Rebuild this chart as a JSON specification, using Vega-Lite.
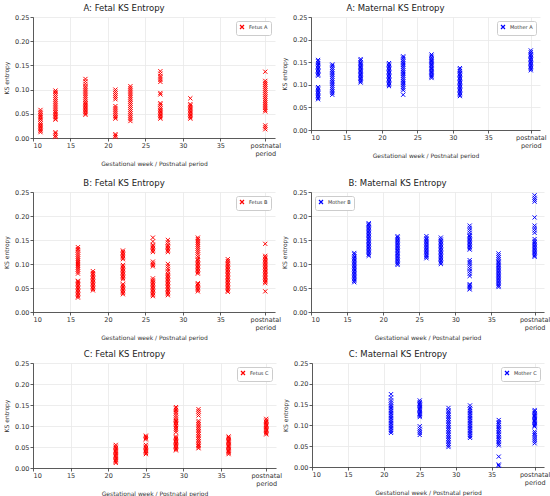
{
"$schema":"https://vega.github.io/schema/vega-lite/v6.json",
"padding":{"left":3,"top":3,"right":0,"bottom":0},
"background":"white",
"datasets":{
"AF":[{"w":11,"v":0.012},{"w":11,"v":0.015},{"w":11,"v":0.018},{"w":11,"v":0.021},{"w":11,"v":0.024},{"w":11,"v":0.027},{"w":11,"v":0.030},{"w":11,"v":0.034},{"w":11,"v":0.038},{"w":11,"v":0.041},{"w":11,"v":0.044},{"w":11,"v":0.047},{"w":11,"v":0.050},{"w":11,"v":0.054},{"w":11,"v":0.058},
{"w":13,"v":0.002},{"w":13,"v":0.005},{"w":13,"v":0.009},{"w":13,"v":0.012},{"w":13,"v":0.038},{"w":13,"v":0.041},{"w":13,"v":0.044},{"w":13,"v":0.047},{"w":13,"v":0.050},{"w":13,"v":0.053},{"w":13,"v":0.056},{"w":13,"v":0.060},{"w":13,"v":0.064},{"w":13,"v":0.068},{"w":13,"v":0.072},{"w":13,"v":0.076},{"w":13,"v":0.080},{"w":13,"v":0.084},{"w":13,"v":0.088},{"w":13,"v":0.092},{"w":13,"v":0.095},{"w":13,"v":0.098},
{"w":17,"v":0.048},{"w":17,"v":0.051},{"w":17,"v":0.054},{"w":17,"v":0.057},{"w":17,"v":0.060},{"w":17,"v":0.063},{"w":17,"v":0.066},{"w":17,"v":0.069},{"w":17,"v":0.072},{"w":17,"v":0.075},{"w":17,"v":0.079},{"w":17,"v":0.083},{"w":17,"v":0.087},{"w":17,"v":0.091},{"w":17,"v":0.095},{"w":17,"v":0.099},{"w":17,"v":0.103},{"w":17,"v":0.107},{"w":17,"v":0.112},{"w":17,"v":0.117},{"w":17,"v":0.122},
{"w":21,"v":0.002},{"w":21,"v":0.005},{"w":21,"v":0.008},{"w":21,"v":0.040},{"w":21,"v":0.043},{"w":21,"v":0.046},{"w":21,"v":0.050},{"w":21,"v":0.054},{"w":21,"v":0.058},{"w":21,"v":0.062},{"w":21,"v":0.066},{"w":21,"v":0.080},{"w":21,"v":0.084},{"w":21,"v":0.088},{"w":21,"v":0.092},{"w":21,"v":0.096},{"w":21,"v":0.100},
{"w":23,"v":0.035},{"w":23,"v":0.039},{"w":23,"v":0.043},{"w":23,"v":0.047},{"w":23,"v":0.051},{"w":23,"v":0.055},{"w":23,"v":0.059},{"w":23,"v":0.063},{"w":23,"v":0.067},{"w":23,"v":0.071},{"w":23,"v":0.075},{"w":23,"v":0.079},{"w":23,"v":0.083},{"w":23,"v":0.087},{"w":23,"v":0.091},{"w":23,"v":0.095},{"w":23,"v":0.099},{"w":23,"v":0.103},{"w":23,"v":0.107},
{"w":27,"v":0.040},{"w":27,"v":0.043},{"w":27,"v":0.046},{"w":27,"v":0.049},{"w":27,"v":0.052},{"w":27,"v":0.055},{"w":27,"v":0.058},{"w":27,"v":0.061},{"w":27,"v":0.065},{"w":27,"v":0.069},{"w":27,"v":0.072},{"w":27,"v":0.090},{"w":27,"v":0.093},{"w":27,"v":0.116},{"w":27,"v":0.120},{"w":27,"v":0.124},{"w":27,"v":0.128},{"w":27,"v":0.133},{"w":27,"v":0.138},
{"w":31,"v":0.040},{"w":31,"v":0.043},{"w":31,"v":0.046},{"w":31,"v":0.049},{"w":31,"v":0.052},{"w":31,"v":0.055},{"w":31,"v":0.058},{"w":31,"v":0.061},{"w":31,"v":0.064},{"w":31,"v":0.067},{"w":31,"v":0.070},{"w":31,"v":0.082},
{"w":41,"v":0.018},{"w":41,"v":0.022},{"w":41,"v":0.026},{"w":41,"v":0.055},{"w":41,"v":0.058},{"w":41,"v":0.062},{"w":41,"v":0.066},{"w":41,"v":0.070},{"w":41,"v":0.074},{"w":41,"v":0.078},{"w":41,"v":0.082},{"w":41,"v":0.086},{"w":41,"v":0.090},{"w":41,"v":0.094},{"w":41,"v":0.098},{"w":41,"v":0.102},{"w":41,"v":0.106},{"w":41,"v":0.110},{"w":41,"v":0.114},{"w":41,"v":0.118},{"w":41,"v":0.137}],
"AM":[{"w":11,"v":0.068},{"w":11,"v":0.071},{"w":11,"v":0.074},{"w":11,"v":0.077},{"w":11,"v":0.080},{"w":11,"v":0.083},{"w":11,"v":0.086},{"w":11,"v":0.089},{"w":11,"v":0.092},{"w":11,"v":0.095},{"w":11,"v":0.120},{"w":11,"v":0.123},{"w":11,"v":0.126},{"w":11,"v":0.129},{"w":11,"v":0.132},{"w":11,"v":0.135},{"w":11,"v":0.138},{"w":11,"v":0.141},{"w":11,"v":0.144},{"w":11,"v":0.148},{"w":11,"v":0.152},{"w":11,"v":0.155},
{"w":13,"v":0.078},{"w":13,"v":0.082},{"w":13,"v":0.086},{"w":13,"v":0.090},{"w":13,"v":0.094},{"w":13,"v":0.098},{"w":13,"v":0.102},{"w":13,"v":0.106},{"w":13,"v":0.110},{"w":13,"v":0.114},{"w":13,"v":0.118},{"w":13,"v":0.122},{"w":13,"v":0.126},{"w":13,"v":0.130},{"w":13,"v":0.134},{"w":13,"v":0.138},{"w":13,"v":0.142},{"w":13,"v":0.145},
{"w":17,"v":0.105},{"w":17,"v":0.108},{"w":17,"v":0.111},{"w":17,"v":0.114},{"w":17,"v":0.117},{"w":17,"v":0.120},{"w":17,"v":0.123},{"w":17,"v":0.126},{"w":17,"v":0.129},{"w":17,"v":0.132},{"w":17,"v":0.135},{"w":17,"v":0.138},{"w":17,"v":0.141},{"w":17,"v":0.144},{"w":17,"v":0.147},{"w":17,"v":0.150},{"w":17,"v":0.154},{"w":17,"v":0.157},
{"w":21,"v":0.097},{"w":21,"v":0.100},{"w":21,"v":0.103},{"w":21,"v":0.106},{"w":21,"v":0.109},{"w":21,"v":0.112},{"w":21,"v":0.115},{"w":21,"v":0.118},{"w":21,"v":0.121},{"w":21,"v":0.124},{"w":21,"v":0.127},{"w":21,"v":0.130},{"w":21,"v":0.133},{"w":21,"v":0.136},{"w":21,"v":0.139},{"w":21,"v":0.142},{"w":21,"v":0.145},{"w":21,"v":0.148},
{"w":23,"v":0.078},{"w":23,"v":0.088},{"w":23,"v":0.092},{"w":23,"v":0.096},{"w":23,"v":0.100},{"w":23,"v":0.104},{"w":23,"v":0.108},{"w":23,"v":0.112},{"w":23,"v":0.116},{"w":23,"v":0.120},{"w":23,"v":0.124},{"w":23,"v":0.128},{"w":23,"v":0.132},{"w":23,"v":0.136},{"w":23,"v":0.140},{"w":23,"v":0.144},{"w":23,"v":0.148},{"w":23,"v":0.152},{"w":23,"v":0.156},{"w":23,"v":0.160},{"w":23,"v":0.163},
{"w":27,"v":0.115},{"w":27,"v":0.118},{"w":27,"v":0.121},{"w":27,"v":0.124},{"w":27,"v":0.127},{"w":27,"v":0.130},{"w":27,"v":0.133},{"w":27,"v":0.136},{"w":27,"v":0.139},{"w":27,"v":0.142},{"w":27,"v":0.145},{"w":27,"v":0.148},{"w":27,"v":0.151},{"w":27,"v":0.154},{"w":27,"v":0.157},{"w":27,"v":0.160},{"w":27,"v":0.164},{"w":27,"v":0.167},
{"w":31,"v":0.075},{"w":31,"v":0.078},{"w":31,"v":0.081},{"w":31,"v":0.084},{"w":31,"v":0.087},{"w":31,"v":0.090},{"w":31,"v":0.093},{"w":31,"v":0.096},{"w":31,"v":0.099},{"w":31,"v":0.102},{"w":31,"v":0.105},{"w":31,"v":0.108},{"w":31,"v":0.111},{"w":31,"v":0.114},{"w":31,"v":0.117},{"w":31,"v":0.120},{"w":31,"v":0.123},{"w":31,"v":0.126},{"w":31,"v":0.130},{"w":31,"v":0.134},{"w":31,"v":0.137},
{"w":41,"v":0.132},{"w":41,"v":0.135},{"w":41,"v":0.138},{"w":41,"v":0.141},{"w":41,"v":0.144},{"w":41,"v":0.147},{"w":41,"v":0.150},{"w":41,"v":0.153},{"w":41,"v":0.156},{"w":41,"v":0.159},{"w":41,"v":0.162},{"w":41,"v":0.165},{"w":41,"v":0.168},{"w":41,"v":0.172},{"w":41,"v":0.176}],
"BF":[{"w":16,"v":0.030},{"w":16,"v":0.033},{"w":16,"v":0.036},{"w":16,"v":0.039},{"w":16,"v":0.042},{"w":16,"v":0.045},{"w":16,"v":0.048},{"w":16,"v":0.051},{"w":16,"v":0.054},{"w":16,"v":0.057},{"w":16,"v":0.060},{"w":16,"v":0.063},{"w":16,"v":0.065},{"w":16,"v":0.080},{"w":16,"v":0.084},{"w":16,"v":0.088},{"w":16,"v":0.092},{"w":16,"v":0.096},{"w":16,"v":0.100},{"w":16,"v":0.104},{"w":16,"v":0.108},{"w":16,"v":0.112},{"w":16,"v":0.116},{"w":16,"v":0.120},{"w":16,"v":0.124},{"w":16,"v":0.128},{"w":16,"v":0.131},{"w":16,"v":0.135},
{"w":18,"v":0.045},{"w":18,"v":0.048},{"w":18,"v":0.051},{"w":18,"v":0.054},{"w":18,"v":0.057},{"w":18,"v":0.060},{"w":18,"v":0.063},{"w":18,"v":0.066},{"w":18,"v":0.069},{"w":18,"v":0.072},{"w":18,"v":0.075},{"w":18,"v":0.078},{"w":18,"v":0.081},{"w":18,"v":0.085},
{"w":22,"v":0.037},{"w":22,"v":0.040},{"w":22,"v":0.043},{"w":22,"v":0.046},{"w":22,"v":0.049},{"w":22,"v":0.052},{"w":22,"v":0.055},{"w":22,"v":0.058},{"w":22,"v":0.068},{"w":22,"v":0.071},{"w":22,"v":0.074},{"w":22,"v":0.077},{"w":22,"v":0.080},{"w":22,"v":0.083},{"w":22,"v":0.086},{"w":22,"v":0.089},{"w":22,"v":0.092},{"w":22,"v":0.095},{"w":22,"v":0.098},{"w":22,"v":0.110},{"w":22,"v":0.113},{"w":22,"v":0.116},{"w":22,"v":0.119},{"w":22,"v":0.122},{"w":22,"v":0.125},{"w":22,"v":0.128},
{"w":26,"v":0.033},{"w":26,"v":0.036},{"w":26,"v":0.039},{"w":26,"v":0.042},{"w":26,"v":0.045},{"w":26,"v":0.048},{"w":26,"v":0.051},{"w":26,"v":0.054},{"w":26,"v":0.057},{"w":26,"v":0.060},{"w":26,"v":0.063},{"w":26,"v":0.066},{"w":26,"v":0.070},{"w":26,"v":0.095},{"w":26,"v":0.098},{"w":26,"v":0.101},{"w":26,"v":0.105},{"w":26,"v":0.125},{"w":26,"v":0.128},{"w":26,"v":0.131},{"w":26,"v":0.134},{"w":26,"v":0.137},{"w":26,"v":0.140},{"w":26,"v":0.147},{"w":26,"v":0.155},
{"w":28,"v":0.035},{"w":28,"v":0.038},{"w":28,"v":0.041},{"w":28,"v":0.044},{"w":28,"v":0.047},{"w":28,"v":0.050},{"w":28,"v":0.053},{"w":28,"v":0.056},{"w":28,"v":0.059},{"w":28,"v":0.062},{"w":28,"v":0.065},{"w":28,"v":0.068},{"w":28,"v":0.071},{"w":28,"v":0.074},{"w":28,"v":0.077},{"w":28,"v":0.080},{"w":28,"v":0.085},{"w":28,"v":0.090},{"w":28,"v":0.095},{"w":28,"v":0.100},{"w":28,"v":0.125},{"w":28,"v":0.128},{"w":28,"v":0.131},{"w":28,"v":0.134},{"w":28,"v":0.137},{"w":28,"v":0.140},{"w":28,"v":0.145},{"w":28,"v":0.150},
{"w":32,"v":0.043},{"w":32,"v":0.046},{"w":32,"v":0.049},{"w":32,"v":0.052},{"w":32,"v":0.055},{"w":32,"v":0.058},{"w":32,"v":0.060},{"w":32,"v":0.080},{"w":32,"v":0.083},{"w":32,"v":0.086},{"w":32,"v":0.089},{"w":32,"v":0.092},{"w":32,"v":0.095},{"w":32,"v":0.098},{"w":32,"v":0.101},{"w":32,"v":0.104},{"w":32,"v":0.107},{"w":32,"v":0.110},{"w":32,"v":0.115},{"w":32,"v":0.120},{"w":32,"v":0.124},{"w":32,"v":0.128},{"w":32,"v":0.132},{"w":32,"v":0.136},{"w":32,"v":0.140},{"w":32,"v":0.144},{"w":32,"v":0.148},{"w":32,"v":0.152},{"w":32,"v":0.155},
{"w":36,"v":0.042},{"w":36,"v":0.045},{"w":36,"v":0.048},{"w":36,"v":0.051},{"w":36,"v":0.054},{"w":36,"v":0.057},{"w":36,"v":0.060},{"w":36,"v":0.063},{"w":36,"v":0.066},{"w":36,"v":0.069},{"w":36,"v":0.072},{"w":36,"v":0.075},{"w":36,"v":0.078},{"w":36,"v":0.081},{"w":36,"v":0.084},{"w":36,"v":0.087},{"w":36,"v":0.090},{"w":36,"v":0.093},{"w":36,"v":0.096},{"w":36,"v":0.099},{"w":36,"v":0.102},{"w":36,"v":0.106},{"w":36,"v":0.110},
{"w":41,"v":0.043},{"w":41,"v":0.060},{"w":41,"v":0.063},{"w":41,"v":0.066},{"w":41,"v":0.069},{"w":41,"v":0.072},{"w":41,"v":0.075},{"w":41,"v":0.078},{"w":41,"v":0.081},{"w":41,"v":0.084},{"w":41,"v":0.087},{"w":41,"v":0.090},{"w":41,"v":0.093},{"w":41,"v":0.096},{"w":41,"v":0.099},{"w":41,"v":0.102},{"w":41,"v":0.105},{"w":41,"v":0.108},{"w":41,"v":0.111},{"w":41,"v":0.114},{"w":41,"v":0.117},{"w":41,"v":0.142}],
"BM":[{"w":16,"v":0.062},{"w":16,"v":0.065},{"w":16,"v":0.068},{"w":16,"v":0.071},{"w":16,"v":0.074},{"w":16,"v":0.077},{"w":16,"v":0.080},{"w":16,"v":0.083},{"w":16,"v":0.086},{"w":16,"v":0.089},{"w":16,"v":0.092},{"w":16,"v":0.095},{"w":16,"v":0.098},{"w":16,"v":0.101},{"w":16,"v":0.104},{"w":16,"v":0.107},{"w":16,"v":0.110},{"w":16,"v":0.113},{"w":16,"v":0.116},{"w":16,"v":0.120},{"w":16,"v":0.123},
{"w":18,"v":0.117},{"w":18,"v":0.120},{"w":18,"v":0.123},{"w":18,"v":0.126},{"w":18,"v":0.129},{"w":18,"v":0.132},{"w":18,"v":0.135},{"w":18,"v":0.138},{"w":18,"v":0.141},{"w":18,"v":0.144},{"w":18,"v":0.147},{"w":18,"v":0.150},{"w":18,"v":0.153},{"w":18,"v":0.156},{"w":18,"v":0.159},{"w":18,"v":0.162},{"w":18,"v":0.165},{"w":18,"v":0.168},{"w":18,"v":0.171},{"w":18,"v":0.174},{"w":18,"v":0.177},{"w":18,"v":0.180},{"w":18,"v":0.183},{"w":18,"v":0.185},
{"w":22,"v":0.098},{"w":22,"v":0.101},{"w":22,"v":0.104},{"w":22,"v":0.107},{"w":22,"v":0.110},{"w":22,"v":0.113},{"w":22,"v":0.116},{"w":22,"v":0.119},{"w":22,"v":0.122},{"w":22,"v":0.125},{"w":22,"v":0.128},{"w":22,"v":0.131},{"w":22,"v":0.134},{"w":22,"v":0.137},{"w":22,"v":0.140},{"w":22,"v":0.143},{"w":22,"v":0.146},{"w":22,"v":0.149},{"w":22,"v":0.152},{"w":22,"v":0.155},{"w":22,"v":0.158},
{"w":26,"v":0.112},{"w":26,"v":0.115},{"w":26,"v":0.118},{"w":26,"v":0.121},{"w":26,"v":0.124},{"w":26,"v":0.127},{"w":26,"v":0.130},{"w":26,"v":0.133},{"w":26,"v":0.136},{"w":26,"v":0.139},{"w":26,"v":0.142},{"w":26,"v":0.145},{"w":26,"v":0.148},{"w":26,"v":0.151},{"w":26,"v":0.154},{"w":26,"v":0.158},
{"w":28,"v":0.100},{"w":28,"v":0.103},{"w":28,"v":0.106},{"w":28,"v":0.109},{"w":28,"v":0.112},{"w":28,"v":0.115},{"w":28,"v":0.118},{"w":28,"v":0.121},{"w":28,"v":0.124},{"w":28,"v":0.127},{"w":28,"v":0.130},{"w":28,"v":0.133},{"w":28,"v":0.136},{"w":28,"v":0.139},{"w":28,"v":0.142},{"w":28,"v":0.145},{"w":28,"v":0.148},{"w":28,"v":0.151},{"w":28,"v":0.155},
{"w":32,"v":0.047},{"w":32,"v":0.050},{"w":32,"v":0.053},{"w":32,"v":0.056},{"w":32,"v":0.058},{"w":32,"v":0.075},{"w":32,"v":0.080},{"w":32,"v":0.085},{"w":32,"v":0.090},{"w":32,"v":0.095},{"w":32,"v":0.100},{"w":32,"v":0.104},{"w":32,"v":0.108},{"w":32,"v":0.130},{"w":32,"v":0.133},{"w":32,"v":0.136},{"w":32,"v":0.139},{"w":32,"v":0.142},{"w":32,"v":0.145},{"w":32,"v":0.148},{"w":32,"v":0.151},{"w":32,"v":0.154},{"w":32,"v":0.157},{"w":32,"v":0.160},{"w":32,"v":0.165},{"w":32,"v":0.170},{"w":32,"v":0.175},{"w":32,"v":0.180},
{"w":36,"v":0.052},{"w":36,"v":0.055},{"w":36,"v":0.058},{"w":36,"v":0.061},{"w":36,"v":0.064},{"w":36,"v":0.067},{"w":36,"v":0.070},{"w":36,"v":0.073},{"w":36,"v":0.076},{"w":36,"v":0.079},{"w":36,"v":0.082},{"w":36,"v":0.085},{"w":36,"v":0.088},{"w":36,"v":0.091},{"w":36,"v":0.094},{"w":36,"v":0.097},{"w":36,"v":0.100},{"w":36,"v":0.103},{"w":36,"v":0.106},{"w":36,"v":0.110},{"w":36,"v":0.114},{"w":36,"v":0.118},{"w":36,"v":0.122},
{"w":41,"v":0.115},{"w":41,"v":0.118},{"w":41,"v":0.121},{"w":41,"v":0.124},{"w":41,"v":0.127},{"w":41,"v":0.130},{"w":41,"v":0.133},{"w":41,"v":0.136},{"w":41,"v":0.139},{"w":41,"v":0.142},{"w":41,"v":0.145},{"w":41,"v":0.148},{"w":41,"v":0.152},{"w":41,"v":0.165},{"w":41,"v":0.170},{"w":41,"v":0.175},{"w":41,"v":0.180},{"w":41,"v":0.197},{"w":41,"v":0.230},{"w":41,"v":0.234},{"w":41,"v":0.238},{"w":41,"v":0.243}],
"CF":[{"w":21,"v":0.012},{"w":21,"v":0.015},{"w":21,"v":0.018},{"w":21,"v":0.021},{"w":21,"v":0.024},{"w":21,"v":0.027},{"w":21,"v":0.030},{"w":21,"v":0.033},{"w":21,"v":0.036},{"w":21,"v":0.039},{"w":21,"v":0.042},{"w":21,"v":0.045},{"w":21,"v":0.048},{"w":21,"v":0.051},{"w":21,"v":0.055},
{"w":25,"v":0.033},{"w":25,"v":0.036},{"w":25,"v":0.039},{"w":25,"v":0.042},{"w":25,"v":0.045},{"w":25,"v":0.048},{"w":25,"v":0.051},{"w":25,"v":0.055},{"w":25,"v":0.068},{"w":25,"v":0.071},{"w":25,"v":0.074},{"w":25,"v":0.077},
{"w":29,"v":0.042},{"w":29,"v":0.045},{"w":29,"v":0.048},{"w":29,"v":0.051},{"w":29,"v":0.054},{"w":29,"v":0.057},{"w":29,"v":0.060},{"w":29,"v":0.063},{"w":29,"v":0.066},{"w":29,"v":0.069},{"w":29,"v":0.072},{"w":29,"v":0.075},{"w":29,"v":0.085},{"w":29,"v":0.090},{"w":29,"v":0.095},{"w":29,"v":0.100},{"w":29,"v":0.103},{"w":29,"v":0.106},{"w":29,"v":0.109},{"w":29,"v":0.112},{"w":29,"v":0.115},{"w":29,"v":0.120},{"w":29,"v":0.125},{"w":29,"v":0.130},{"w":29,"v":0.134},{"w":29,"v":0.138},{"w":29,"v":0.142},{"w":29,"v":0.145},
{"w":32,"v":0.047},{"w":32,"v":0.050},{"w":32,"v":0.053},{"w":32,"v":0.056},{"w":32,"v":0.060},{"w":32,"v":0.064},{"w":32,"v":0.068},{"w":32,"v":0.072},{"w":32,"v":0.076},{"w":32,"v":0.080},{"w":32,"v":0.084},{"w":32,"v":0.088},{"w":32,"v":0.092},{"w":32,"v":0.096},{"w":32,"v":0.100},{"w":32,"v":0.104},{"w":32,"v":0.108},{"w":32,"v":0.112},{"w":32,"v":0.125},{"w":32,"v":0.130},{"w":32,"v":0.135},{"w":32,"v":0.140},
{"w":36,"v":0.033},{"w":36,"v":0.036},{"w":36,"v":0.039},{"w":36,"v":0.042},{"w":36,"v":0.045},{"w":36,"v":0.048},{"w":36,"v":0.051},{"w":36,"v":0.054},{"w":36,"v":0.057},{"w":36,"v":0.060},{"w":36,"v":0.063},{"w":36,"v":0.066},{"w":36,"v":0.069},{"w":36,"v":0.072},{"w":36,"v":0.075},
{"w":41,"v":0.080},{"w":41,"v":0.083},{"w":41,"v":0.086},{"w":41,"v":0.089},{"w":41,"v":0.092},{"w":41,"v":0.095},{"w":41,"v":0.098},{"w":41,"v":0.101},{"w":41,"v":0.104},{"w":41,"v":0.107},{"w":41,"v":0.110},{"w":41,"v":0.113},{"w":41,"v":0.117}],
"CM":[{"w":21,"v":0.082},{"w":21,"v":0.086},{"w":21,"v":0.090},{"w":21,"v":0.094},{"w":21,"v":0.098},{"w":21,"v":0.102},{"w":21,"v":0.106},{"w":21,"v":0.110},{"w":21,"v":0.114},{"w":21,"v":0.118},{"w":21,"v":0.122},{"w":21,"v":0.126},{"w":21,"v":0.130},{"w":21,"v":0.134},{"w":21,"v":0.138},{"w":21,"v":0.142},{"w":21,"v":0.146},{"w":21,"v":0.150},{"w":21,"v":0.155},{"w":21,"v":0.160},{"w":21,"v":0.167},{"w":21,"v":0.175},
{"w":25,"v":0.077},{"w":25,"v":0.082},{"w":25,"v":0.087},{"w":25,"v":0.092},{"w":25,"v":0.098},{"w":25,"v":0.120},{"w":25,"v":0.123},{"w":25,"v":0.126},{"w":25,"v":0.129},{"w":25,"v":0.132},{"w":25,"v":0.135},{"w":25,"v":0.138},{"w":25,"v":0.141},{"w":25,"v":0.144},{"w":25,"v":0.147},{"w":25,"v":0.150},{"w":25,"v":0.153},{"w":25,"v":0.156},{"w":25,"v":0.160},
{"w":29,"v":0.048},{"w":29,"v":0.052},{"w":29,"v":0.056},{"w":29,"v":0.060},{"w":29,"v":0.064},{"w":29,"v":0.068},{"w":29,"v":0.072},{"w":29,"v":0.076},{"w":29,"v":0.080},{"w":29,"v":0.084},{"w":29,"v":0.088},{"w":29,"v":0.092},{"w":29,"v":0.096},{"w":29,"v":0.100},{"w":29,"v":0.104},{"w":29,"v":0.108},{"w":29,"v":0.112},{"w":29,"v":0.116},{"w":29,"v":0.120},{"w":29,"v":0.124},{"w":29,"v":0.128},{"w":29,"v":0.132},{"w":29,"v":0.136},{"w":29,"v":0.142},
{"w":32,"v":0.070},{"w":32,"v":0.074},{"w":32,"v":0.078},{"w":32,"v":0.082},{"w":32,"v":0.086},{"w":32,"v":0.090},{"w":32,"v":0.094},{"w":32,"v":0.098},{"w":32,"v":0.102},{"w":32,"v":0.106},{"w":32,"v":0.110},{"w":32,"v":0.114},{"w":32,"v":0.118},{"w":32,"v":0.122},{"w":32,"v":0.126},{"w":32,"v":0.130},{"w":32,"v":0.134},{"w":32,"v":0.138},{"w":32,"v":0.142},{"w":32,"v":0.148},
{"w":36,"v":0.003},{"w":36,"v":0.006},{"w":36,"v":0.025},{"w":36,"v":0.052},{"w":36,"v":0.056},{"w":36,"v":0.060},{"w":36,"v":0.064},{"w":36,"v":0.068},{"w":36,"v":0.072},{"w":36,"v":0.076},{"w":36,"v":0.080},{"w":36,"v":0.084},{"w":36,"v":0.088},{"w":36,"v":0.092},{"w":36,"v":0.096},{"w":36,"v":0.100},{"w":36,"v":0.104},{"w":36,"v":0.108},{"w":36,"v":0.113},
{"w":41,"v":0.057},{"w":41,"v":0.062},{"w":41,"v":0.067},{"w":41,"v":0.072},{"w":41,"v":0.077},{"w":41,"v":0.081},{"w":41,"v":0.085},{"w":41,"v":0.097},{"w":41,"v":0.100},{"w":41,"v":0.103},{"w":41,"v":0.106},{"w":41,"v":0.109},{"w":41,"v":0.112},{"w":41,"v":0.115},{"w":41,"v":0.118},{"w":41,"v":0.121},{"w":41,"v":0.124},{"w":41,"v":0.127},{"w":41,"v":0.130},{"w":41,"v":0.134},{"w":41,"v":0.137}]
},
"spacing":11,
"vconcat":[
{"hconcat":[
{"title":"A: Fetal KS Entropy","width":242,"height":121,"data":{"name":"AF"},
 "mark":{"type":"point","shape":"M-1,-1L1,1M-1,1L1,-1","filled":false,"strokeWidth":1,"size":17,"opacity":1},
 "encoding":{"x":{"field":"w","type":"quantitative","scale":{"domain":[10,42.3],"nice":false,"zero":false},"axis":{"values":[10,15,20,25,30,35,41],"labelExpr":"datum.value == 41 ? ['postnatal','period'] : datum.label","title":"Gestational week / Postnatal period"}},
  "y":{"field":"v","type":"quantitative","scale":{"domain":[0,0.25],"nice":false},"axis":{"values":[0,0.05,0.1,0.15,0.2,0.25],"format":".2f","title":"KS entropy"}},
  "color":{"datum":"Fetus A","scale":{"domain":["Fetus A"],"range":["#ff0000"]},"legend":{"orient":"top-right","title":null}}}},
{"title":"A: Maternal KS Entropy","width":229,"height":113,"data":{"name":"AM"},
 "mark":{"type":"point","shape":"M-1,-1L1,1M-1,1L1,-1","filled":false,"strokeWidth":1,"size":17,"opacity":1},
 "encoding":{"x":{"field":"w","type":"quantitative","scale":{"domain":[10,42.3],"nice":false,"zero":false},"axis":{"values":[10,15,20,25,30,35,41],"labelExpr":"datum.value == 41 ? ['postnatal','period'] : datum.label","title":"Gestational week / Postnatal period"}},
  "y":{"field":"v","type":"quantitative","scale":{"domain":[0,0.25],"nice":false},"axis":{"values":[0,0.05,0.1,0.15,0.2,0.25],"format":".2f","title":"KS entropy"}},
  "color":{"datum":"Mother A","scale":{"domain":["Mother A"],"range":["#0000ff"]},"legend":{"orient":"top-right","title":null}}}}
],"spacing":0,"resolve":{"scale":{"color":"independent"},"legend":{"color":"independent"}}},
{"vconcat":[
{"hconcat":[
{"title":"B: Fetal KS Entropy","width":242,"height":120,"data":{"name":"BF"},
 "mark":{"type":"point","shape":"M-1,-1L1,1M-1,1L1,-1","filled":false,"strokeWidth":1,"size":17,"opacity":1},
 "encoding":{"x":{"field":"w","type":"quantitative","scale":{"domain":[10,42.3],"nice":false,"zero":false},"axis":{"values":[10,15,20,25,30,35,41],"labelExpr":"datum.value == 41 ? ['postnatal','period'] : datum.label","title":"Gestational week / Postnatal period"}},
  "y":{"field":"v","type":"quantitative","scale":{"domain":[0,0.25],"nice":false},"axis":{"values":[0,0.05,0.1,0.15,0.2,0.25],"format":".2f","title":"KS entropy"}},
  "color":{"datum":"Fetus B","scale":{"domain":["Fetus B"],"range":["#ff0000"]},"legend":{"orient":"top-right","title":null}}}},
{"title":"B: Maternal KS Entropy","width":233,"height":120,"data":{"name":"BM"},
 "mark":{"type":"point","shape":"M-1,-1L1,1M-1,1L1,-1","filled":false,"strokeWidth":1,"size":17,"opacity":1},
 "encoding":{"x":{"field":"w","type":"quantitative","scale":{"domain":[10,42.3],"nice":false,"zero":false},"axis":{"values":[10,15,20,25,30,35,41],"labelExpr":"datum.value == 41 ? ['postnatal','period'] : datum.label","title":"Gestational week / Postnatal period"}},
  "y":{"field":"v","type":"quantitative","scale":{"domain":[0,0.25],"nice":false},"axis":{"values":[0,0.05,0.1,0.15,0.2,0.25],"format":".2f","title":"KS entropy"}},
  "color":{"datum":"Mother B","scale":{"domain":["Mother B"],"range":["#0000ff"]},"legend":{"orient":"top-left","title":null}}}}
],"spacing":0,"resolve":{"scale":{"color":"independent"},"legend":{"color":"independent"}}},
{"hconcat":[
{"title":"C: Fetal KS Entropy","width":243,"height":105,"data":{"name":"CF"},
 "mark":{"type":"point","shape":"M-1,-1L1,1M-1,1L1,-1","filled":false,"strokeWidth":1,"size":17,"opacity":1},
 "encoding":{"x":{"field":"w","type":"quantitative","scale":{"domain":[10,42.3],"nice":false,"zero":false},"axis":{"values":[10,15,20,25,30,35,41],"labelExpr":"datum.value == 41 ? ['postnatal','period'] : datum.label","title":"Gestational week / Postnatal period"}},
  "y":{"field":"v","type":"quantitative","scale":{"domain":[0,0.25],"nice":false},"axis":{"values":[0,0.05,0.1,0.15,0.2,0.25],"format":".2f","title":"KS entropy"}},
  "color":{"datum":"Fetus C","scale":{"domain":["Fetus C"],"range":["#ff0000"]},"legend":{"orient":"top-right","title":null}}}},
{"title":"C: Maternal KS Entropy","width":232,"height":104,"data":{"name":"CM"},
 "mark":{"type":"point","shape":"M-1,-1L1,1M-1,1L1,-1","filled":false,"strokeWidth":1,"size":17,"opacity":1},
 "encoding":{"x":{"field":"w","type":"quantitative","scale":{"domain":[10,42.3],"nice":false,"zero":false},"axis":{"values":[10,15,20,25,30,35,41],"labelExpr":"datum.value == 41 ? ['postnatal','period'] : datum.label","title":"Gestational week / Postnatal period"}},
  "y":{"field":"v","type":"quantitative","scale":{"domain":[0,0.25],"nice":false},"axis":{"values":[0,0.05,0.1,0.15,0.2,0.25],"format":".2f","title":"KS entropy"}},
  "color":{"datum":"Mother C","scale":{"domain":["Mother C"],"range":["#0000ff"]},"legend":{"orient":"top-right","title":null}}}}
],"spacing":0,"resolve":{"scale":{"color":"independent"},"legend":{"color":"independent"}}}
],"spacing":8,"resolve":{"scale":{"color":"independent"},"legend":{"color":"independent"}}}
],
"resolve":{"scale":{"color":"independent"},"legend":{"color":"independent"}},
"config":{
 "font":"DejaVu Sans",
 "view":{"stroke":null},
 "title":{"font":"DejaVu Sans","fontSize":8.5,"fontWeight":"normal","color":"#222","offset":2,"dx":-30},
 "axis":{"labelFont":"DejaVu Sans","labelFontSize":6.5,"labelColor":"#333","titleFont":"DejaVu Sans","titleFontSize":6,"titleFontWeight":"normal","titleColor":"#333","gridColor":"#e8e8e8","gridWidth":0.8,"domainColor":"#333","domainWidth":0.8,"tickColor":"#333","tickSize":3,"tickWidth":0.8,"labelPadding":1,"titlePadding":5,"labelLineHeight":8},
 "axisX":{"titlePadding":4},
 "legend":{"labelFont":"DejaVu Sans","labelFontSize":5,"labelColor":"#333","fillColor":"white","strokeColor":"#cccccc","padding":3,"cornerRadius":2,"symbolSize":16,"symbolStrokeWidth":1.2,"symbolType":"M-1,-1L1,1M-1,1L1,-1","offset":4,"rowPadding":2}
}
}
